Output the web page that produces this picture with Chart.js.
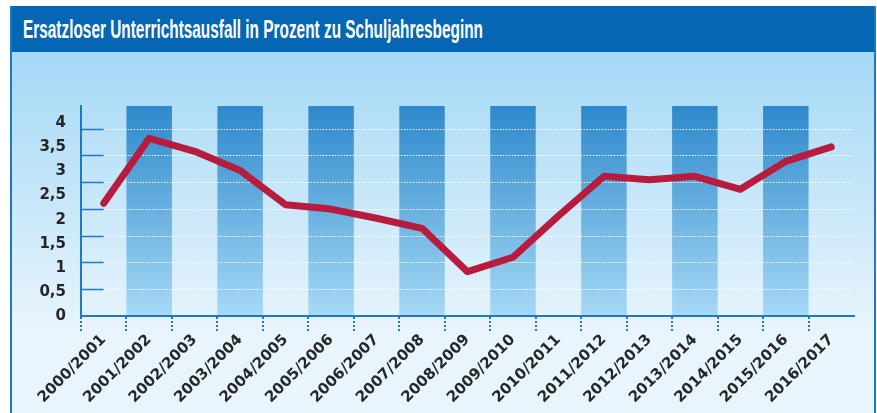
<!DOCTYPE html>
<html lang="de">
<head>
<meta charset="UTF-8">
<title>Ersatzloser Unterrichtsausfall</title>
<script src="https://cdn.jsdelivr.net/npm/chart.js"></script>
<style>
    body { margin: 0; background: #fff; width: 877px; height: 413px; overflow: hidden; position: relative; }
    #rahmen {
        position: absolute; left: 10px; top: 6px; width: 862px; height: 420px;
        border-left: 2px solid #1f78c4; border-right: 2px solid #1f78c4;
        background: linear-gradient(#a4d8f5 46px, #e9f5fd 330px);
    }
    #titel {
        height: 46px; background: #0567b3; position: relative;
    }
    #titel span {
        position: absolute; left: 11px; top: 9px; white-space: nowrap;
        color: #fff; font: bold 25px "Liberation Sans", sans-serif;
        transform-origin: 0 0;
    }
    canvas { position: absolute; left: 0; top: 0; }
</style>
</head>
<body>
<div id="rahmen">
    <div id="titel"><span>Ersatzloser Unterrichtsausfall in Prozent zu Schuljahresbeginn</span></div>
</div>
<canvas id="diagramm" width="877" height="413"></canvas>
<script>
    // Schuljahre und Werte (in Prozent)
    const schuljahre = ['2000/2001', '2001/2002', '2002/2003', '2003/2004', '2004/2005', '2005/2006',
        '2006/2007', '2007/2008', '2008/2009', '2009/2010', '2010/2011', '2011/2012',
        '2012/2013', '2013/2014', '2014/2015', '2015/2016', '2016/2017'];
    const ausfallProzent = [2.34, 3.69, 3.42, 3.02, 2.31, 2.22, 2.03, 1.82, 0.92, 1.22, 2.08, 2.90,
        2.83, 2.90, 2.63, 3.21, 3.51];

    // Skalen: Beschriftung und (leicht versetzte) Hilfslinien wie im Original
    const achseMax = 4.36;
    const rasterMax = 3.92;
    const schritt = 0.5;

    const blau = '#1f78c4';
    const schrift = 'DejaVu Sans';

    // Titel auf Originalbreite bringen
    const titel = document.querySelector('#titel span');
    titel.style.transform = 'scaleX(' + (460 / titel.getBoundingClientRect().width) + ')';

    // Streifen, Hilfslinien und Striche unter der x-Achse
    const hintergrund = {
        id: 'hintergrund',
        beforeDraw(chart) {
            const { ctx, chartArea: a, scales: { x } } = chart;
            const band = x.getPixelForValue(1) - x.getPixelForValue(0);
            const g = ctx.createLinearGradient(0, a.top, 0, a.bottom);
            g.addColorStop(0, '#2d89cb');
            g.addColorStop(1, '#a6d9f6');
            ctx.save();
            ctx.fillStyle = g;
            schuljahre.forEach((s, i) => {
                if (i % 2 === 1) {
                    const cx = x.getPixelForValue(i);
                    ctx.fillRect(cx - band / 2, a.top, band, a.bottom - a.top);
                }
            });
            ctx.restore();
        },
        beforeDatasetsDraw(chart) {
            const { ctx, chartArea: a, scales: { x, yRaster } } = chart;
            const halb = (x.getPixelForValue(1) - x.getPixelForValue(0)) / 2;
            ctx.save();
            yRaster.ticks.forEach(t => {
                if (t.value === 0) return;
                const y = Math.round(yRaster.getPixelForValue(t.value)) + 0.5;
                ctx.setLineDash([]);
                ctx.strokeStyle = blau;
                ctx.lineWidth = 1.5;
                ctx.beginPath();
                ctx.moveTo(a.left, y);
                ctx.lineTo(a.left + halb, y);
                ctx.stroke();
                ctx.setLineDash([1.5, 1.5]);
                ctx.strokeStyle = 'rgba(255,255,255,0.95)';
                ctx.lineWidth = 1;
                ctx.beginPath();
                ctx.moveTo(a.left + halb, y);
                ctx.lineTo(a.right, y);
                ctx.stroke();
            });
            ctx.setLineDash([2, 2]);
            ctx.strokeStyle = blau;
            ctx.lineWidth = 2;
            for (let i = 0; i < schuljahre.length; i++) {
                const xb = Math.round(x.getPixelForValue(i) - halb);
                ctx.beginPath();
                ctx.moveTo(xb, a.bottom + 1);
                ctx.lineTo(xb, a.bottom + 15);
                ctx.stroke();
            }
            ctx.restore();
        }
    };

    new Chart(document.getElementById('diagramm'), {
        type: 'line',
        data: {
            labels: schuljahre,
            datasets: [{
                data: ausfallProzent,
                yAxisID: 'y',
                borderColor: '#b71c3f',
                borderWidth: 7,
                borderCapStyle: 'round',
                borderJoinStyle: 'round',
                pointRadius: 0,
                tension: 0,
                fill: false
            }]
        },
        options: {
            responsive: false,
            animation: false,
            layout: { padding: { top: 106, right: 23, left: 0, bottom: 0 } },
            plugins: { legend: { display: false }, tooltip: { enabled: false } },
            scales: {
                x: {
                    offset: true,
                    grid: { display: false, drawTicks: false },
                    border: { display: true, color: blau, width: 2 },
                    ticks: {
                        autoSkip: false, maxRotation: 45, minRotation: 45, padding: 15,
                        color: '#262626', font: { family: schrift, weight: 'bold', size: 15 }
                    },
                    afterFit(s) { s.height = 97; }
                },
                y: {
                    min: 0, max: achseMax,
                    grid: { display: false, drawTicks: false },
                    border: { display: true, color: blau, width: 2 },
                    ticks: {
                        stepSize: schritt, includeBounds: false, padding: 15,
                        color: '#262626', font: { family: schrift, weight: 'bold', size: 15 },
                        callback: v => String(v).replace('.', ',')
                    },
                    afterFit(s) { s.width = 81; }
                },
                yRaster: {
                    display: false, position: 'left',
                    min: 0, max: rasterMax,
                    ticks: { stepSize: schritt, includeBounds: false }
                }
            }
        },
        plugins: [hintergrund]
    });
</script>
</body>
</html>
